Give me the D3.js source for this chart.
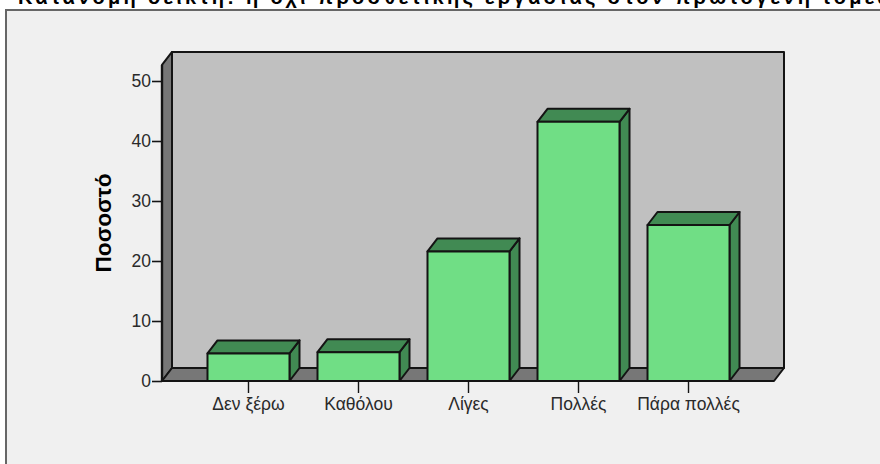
<!DOCTYPE html>
<html><head><meta charset="utf-8">
<style>html,body{margin:0;padding:0;background:#fff;overflow:hidden}svg{display:block}text{font-family:"Liberation Sans",Arial,sans-serif}</style>
<script src="https://d3js.org/d3.v7.min.js"></script></head>
<body><svg id="c" width="880" height="464"></svg>
<script>
const titleText = "Κατανομή δείκτη: ή όχι προσθετικής εργασίας στον πρωτογενή τομέα";
const yTitle = "Ποσοστό";
const categories = ["Δεν ξέρω","Καθόλου","Λίγες","Πολλές","Πάρα πολλές"];
const values = [4.6,4.8,21.6,43.2,26.0];
const yTicks = [0,10,20,30,40,50];

const svg = d3.select("#c");
const DX = 10, DY = 13, INK = "#141414";
const y = d3.scaleLinear().domain([0,50]).range([381,81]);
const x = d3.scaleBand().domain(categories).range([162,775]).paddingInner(0.2545).paddingOuter(0.4135);
const top0 = y(52.67), floorY = y(0), L = x.range()[0], R = x.range()[1];
const poly = (pts,fill,sw=2) => svg.append("polygon").attr("points",pts.map(p=>p.join(",")).join(" "))
  .attr("fill",fill).attr("stroke",INK).attr("stroke-width",sw).attr("stroke-linejoin","round");

svg.append("rect").attr("width",880).attr("height",464).attr("fill","#fff");
svg.append("rect").attr("x",6).attr("y",10).attr("width",900).attr("height",500)
  .attr("fill","#f0f0f0").attr("stroke","#666").attr("stroke-width",2);
svg.append("text").attr("x",18).attr("y",3.5).attr("font-size",20).attr("font-weight","bold")
  .attr("letter-spacing",3.3).attr("fill","#000").text(titleText);

// walls and floor
poly([[L+DX,top0-DY],[R+DX-1,top0-DY],[R+DX-1,floorY-DY],[L+DX,floorY-DY]],"#c0c0c0");
poly([[L,top0],[L+DX,top0-DY],[L+DX,floorY-DY],[L,floorY]],"#777777");
poly([[L,floorY],[L+DX,floorY-DY],[R+DX-1,floorY-DY],[R-1,floorY]],"#777777");

const tickFont = "'Liberation Sans',Arial,sans-serif";
// y axis
svg.append("g").attr("transform",`translate(${L},0)`)
  .call(d3.axisLeft(y).tickValues(yTicks).tickSize(10).tickSizeOuter(0).tickPadding(1))
  .call(g=>g.select(".domain").remove())
  .call(g=>g.selectAll("line").attr("stroke",INK).attr("stroke-width",1.6))
  .call(g=>g.selectAll("text").attr("font-size",17.5).attr("fill","#2a2a2a").style("font-family",tickFont));

svg.append("line").attr("x1",L).attr("x2",L).attr("y1",top0).attr("y2",floorY).attr("stroke",INK).attr("stroke-width",2.4);

// x axis
svg.append("g").attr("transform",`translate(0,${floorY})`)
  .call(d3.axisBottom(x).tickSize(12).tickSizeOuter(0).tickPadding(5))
  .call(g=>g.select(".domain").remove())
  .call(g=>g.selectAll("line").attr("stroke",INK).attr("stroke-width",1.4))
  .call(g=>g.selectAll("text").attr("font-size",17.5).attr("fill","#2a2a2a").style("font-family",tickFont));

// bars
categories.forEach((c,i)=>{
  const x0=x(c), x1=x0+x.bandwidth(), yt=y(values[i]);
  poly([[x1,yt],[x1+DX,yt-DY],[x1+DX,floorY-DY],[x1,floorY]],"#418a53");
  poly([[x0,yt],[x0+DX,yt-DY],[x1+DX,yt-DY],[x1,yt]],"#418a53");
  poly([[x0,yt],[x1,yt],[x1,floorY],[x0,floorY]],"#70de85");
});

svg.append("text").attr("transform","translate(111,223) rotate(-90)").attr("text-anchor","middle")
  .attr("font-size",22.7).attr("font-weight","bold").attr("fill","#000").text(yTitle);
</script></body></html>
